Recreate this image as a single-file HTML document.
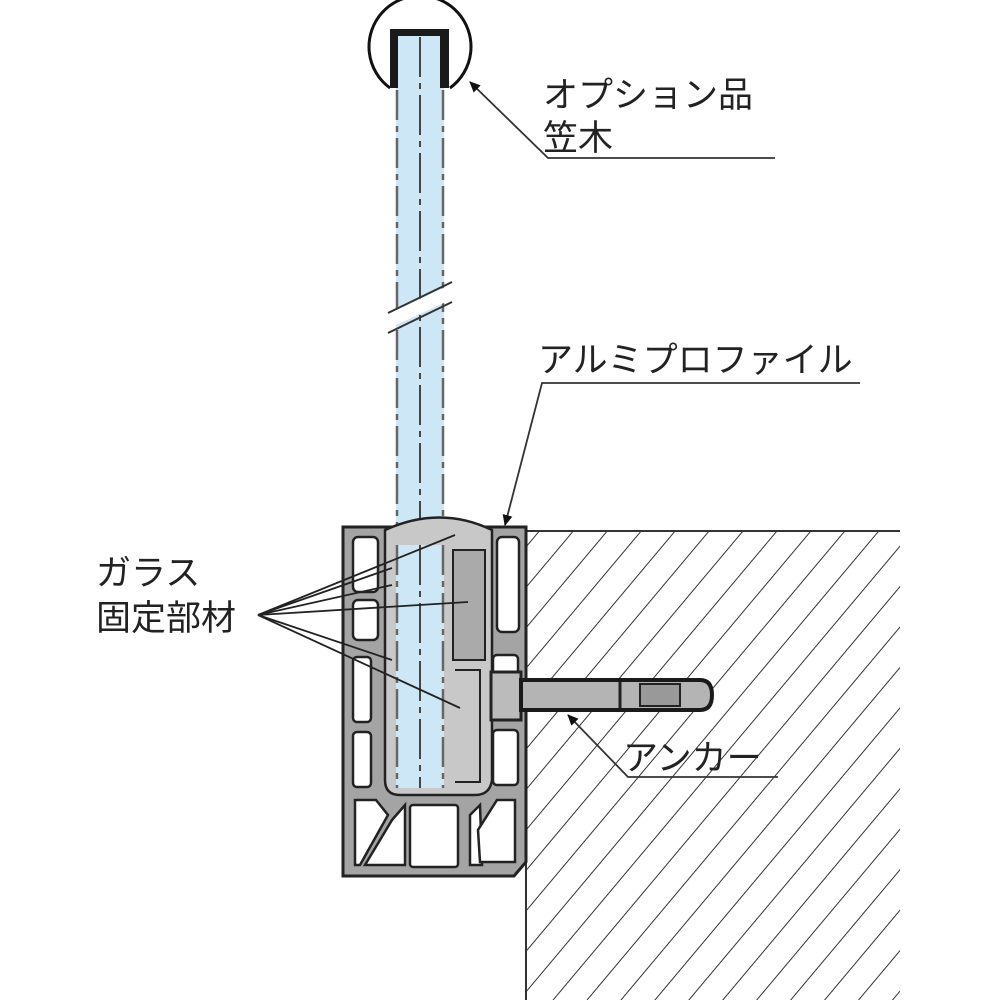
<!DOCTYPE html>
<html><head><meta charset="utf-8"><style>
body{margin:0;background:#fff}
svg{display:block}
text{font-family:"Liberation Sans","Noto Sans CJK JP",sans-serif;font-size:35px;fill:#222}
</style></head><body>
<svg width="1000" height="1000" viewBox="0 0 1000 1000" xmlns="http://www.w3.org/2000/svg">
<defs>
<pattern id="h" width="26" height="26" patternUnits="userSpaceOnUse" patternTransform="rotate(40)">
<line x1="0" y1="0" x2="0" y2="26" stroke="#333" stroke-width="2"/>
</pattern>
<marker id="a" markerWidth="12" markerHeight="12" refX="10" refY="5" orient="auto" markerUnits="userSpaceOnUse">
<path d="M0,0 L11,5 L0,10 z" fill="#111"/>
</marker>
</defs>
<!-- concrete -->
<rect x="526" y="531" width="374" height="469" fill="url(#h)"/>
<line x1="526" y1="531" x2="900" y2="531" stroke="#333" stroke-width="2"/>
<line x1="526" y1="531" x2="526" y2="1000" stroke="#333" stroke-width="2"/>
<!-- glass -->
<rect x="396" y="36" width="48" height="752" fill="#cde7f6"/>
<line x1="397" y1="90" x2="397" y2="788" stroke="#666" stroke-width="2.5" stroke-dasharray="30,6,6,6"/>
<line x1="443" y1="90" x2="443" y2="788" stroke="#666" stroke-width="2.5" stroke-dasharray="30,6,6,6"/>
<line x1="420" y1="37" x2="420" y2="788" stroke="#444" stroke-width="2" stroke-dasharray="40,6,6,6"/>
<!-- break -->
<polygon points="385,315 450,285 450,300 385,330" fill="#fff"/>
<line x1="388" y1="313" x2="452" y2="282" stroke="#333" stroke-width="2"/>
<line x1="388" y1="333" x2="452" y2="302" stroke="#333" stroke-width="2"/>
<!-- cap -->
<path d="M390,88 A51,51 0 1 1 450,88" fill="none" stroke="#111" stroke-width="3"/>
<path d="M390,88 L390,29 L449,29 L449,88 L440,88 L440,36 L398,36 L398,88 Z" fill="#1a1a1a"/>
<!-- profile -->
<path d="M343,527 L526,527 L526,862 L514,876 L343,876 Z" fill="#a4a4a4" stroke="#222" stroke-width="3"/>
<path d="M385,530 Q440,505 492,530 L492,780 Q490,795 475,795 L400,795 Q385,795 385,780 Z" fill="#c8c8c8" stroke="#222" stroke-width="2.5"/>
<rect x="396" y="545" width="48" height="243" fill="#cde7f6"/>
<line x1="397" y1="545" x2="397" y2="788" stroke="#666" stroke-width="2.5" stroke-dasharray="30,6,6,6"/>
<line x1="443" y1="545" x2="443" y2="788" stroke="#666" stroke-width="2.5" stroke-dasharray="30,6,6,6"/>
<line x1="420" y1="545" x2="420" y2="788" stroke="#444" stroke-width="2" stroke-dasharray="40,6,6,6"/>
<rect x="453" y="550" width="32" height="110" fill="#aaa" stroke="#222" stroke-width="2"/>
<path d="M455,670 L480,670 L480,782 L455,782" fill="none" stroke="#222" stroke-width="2"/>
<g fill="#fff" stroke="#222" stroke-width="2.5">
<rect x="353" y="537" width="25" height="55" rx="5"/>
<rect x="353" y="600" width="25" height="40" rx="5"/>
<rect x="353" y="657" width="18" height="65" rx="4"/>
<rect x="353" y="732" width="18" height="55" rx="4"/>
<polygon points="355,800 376,800 388,815 360,865 355,865"/>
<rect x="410" y="805" width="48" height="62" rx="3"/>
<polygon points="470,815 480,805 482,865 470,865"/>
<rect x="497" y="537" width="22" height="95" rx="5"/>
<rect x="493" y="655" width="25" height="65" rx="4"/>
<rect x="493" y="730" width="25" height="55" rx="4"/>
<polygon points="497,800 515,800 515,862 480,862 478,830"/>
<polygon points="392,820 405,805 405,865 365,865"/>
</g>
<!-- anchor -->
<rect x="491" y="672" width="30" height="48" fill="#bbb" stroke="#222" stroke-width="3"/>
<path d="M521,680 L700,680 Q712,680 712,695 Q712,710 700,710 L521,710 Z" fill="#b4b4b4" stroke="#1a1a1a" stroke-width="4"/>
<line x1="620" y1="682" x2="620" y2="708" stroke="#222" stroke-width="3"/>
<rect x="640" y="684" width="40" height="22" fill="#999" stroke="#222" stroke-width="2"/>
<!-- labels -->
<text x="543" y="107">オプション品</text>
<text x="543" y="150">笠木</text>
<polyline points="775,158 548,158 470,82" fill="none" stroke="#333" stroke-width="1.8" marker-end="url(#a)"/>
<text x="538" y="372">アルミプロファイル</text>
<polyline points="860,383 542,383 505,525" fill="none" stroke="#333" stroke-width="1.8" marker-end="url(#a)"/>
<text x="96" y="585">ガラス</text>
<text x="96" y="630">固定部材</text>
<g stroke="#222" stroke-width="1.8">
<line x1="258" y1="615" x2="455" y2="535"/>
<line x1="258" y1="615" x2="392" y2="568"/>
<line x1="258" y1="615" x2="392" y2="585"/>
<line x1="258" y1="615" x2="468" y2="602"/>
<line x1="258" y1="615" x2="392" y2="660"/>
<line x1="258" y1="615" x2="460" y2="708"/>
</g>
<text x="623" y="770">アンカー</text>
<polyline points="778,777 628,777 568,715" fill="none" stroke="#333" stroke-width="1.8" marker-end="url(#a)"/>
</svg>
</body></html>
